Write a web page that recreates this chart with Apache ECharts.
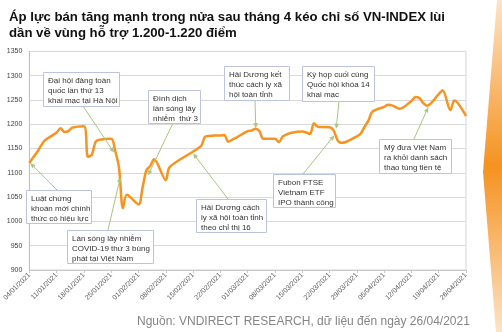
<!DOCTYPE html>
<html>
<head>
<meta charset="utf-8">
<script src="https://cdn.jsdelivr.net/npm/echarts@6/dist/echarts.min.js"></script>
<style>
  html, body { margin: 0; padding: 0; background: #ffffff; }
  #chart { width: 502px; height: 332px; }
</style>
</head>
<body>
<div id="chart"></div>
<script>
// VN-INDEX daily closes, 04/01/2021 - 26/04/2021 (trading days only)
const tradeDates = [
  '2021-01-04','2021-01-05','2021-01-06','2021-01-07','2021-01-08',
  '2021-01-11','2021-01-12','2021-01-13','2021-01-14','2021-01-15',
  '2021-01-18','2021-01-19','2021-01-20','2021-01-21','2021-01-22',
  '2021-01-25','2021-01-26','2021-01-27','2021-01-28','2021-01-29',
  '2021-02-01','2021-02-02','2021-02-03','2021-02-04','2021-02-05',
  '2021-02-08','2021-02-09','2021-02-17','2021-02-18','2021-02-19',
  '2021-02-22','2021-02-23','2021-02-24','2021-02-25','2021-02-26',
  '2021-03-01','2021-03-02','2021-03-03','2021-03-04','2021-03-05',
  '2021-03-08','2021-03-09','2021-03-10','2021-03-11','2021-03-12',
  '2021-03-15','2021-03-16','2021-03-17','2021-03-18','2021-03-19',
  '2021-03-22','2021-03-23','2021-03-24','2021-03-25','2021-03-26',
  '2021-03-29','2021-03-30','2021-03-31','2021-04-01','2021-04-02',
  '2021-04-05','2021-04-06','2021-04-07','2021-04-08','2021-04-09',
  '2021-04-12','2021-04-13','2021-04-14','2021-04-15','2021-04-16',
  '2021-04-19','2021-04-20','2021-04-22','2021-04-23','2021-04-26'
];
const closes = [
  1120, 1132, 1143, 1156, 1167,
  1183, 1192, 1184, 1186, 1193,
  1196, 1133, 1137, 1164, 1168,
  1170, 1146, 1110, 1027, 1055,
  1035, 1068, 1105, 1114, 1128,
  1085, 1112, 1155, 1174, 1176,
  1177, 1178, 1164, 1168, 1172,
  1186, 1187, 1191, 1186, 1170,
  1170, 1163, 1175, 1179, 1182,
  1185, 1183, 1180, 1202, 1195,
  1194, 1188, 1168, 1162, 1163,
  1175, 1181, 1195, 1208, 1226,
  1236, 1240, 1239, 1235, 1232,
  1248, 1256, 1254, 1244, 1238,
  1262, 1270, 1229, 1249, 1217
];

// Weekly x-axis labels (Mondays)
const tickLabels = [
  '04/01/2021','11/01/2021','18/01/2021','25/01/2021','01/02/2021',
  '08/02/2021','15/02/2021','22/02/2021','01/03/2021','08/03/2021',
  '15/03/2021','22/03/2021','29/03/2021','05/04/2021','12/04/2021',
  '19/04/2021','26/04/2021'
];

// Event call-outs: text, and the point on the index line each one refers to
const noteTexts = [
  ['Luật chứng', 'khoán mới chính', 'thức có hiệu lực'],
  ['Đại hội đảng toàn', 'quốc lần thứ 13', 'khai mạc tại Hà Nội'],
  ['Làn sóng lây nhiễm', 'COVID-19 thứ 3 bùng', 'phát tại Việt Nam'],
  ['Đình dịch', 'làn sóng lây', 'nhiễm  thứ 3'],
  ['Hải Dương cách', 'ly xã hội toàn tỉnh', 'theo chỉ thị 16'],
  ['Hải Dương kết', 'thúc cách ly xã', 'hội toàn tỉnh'],
  ['Kỳ họp cuối cùng', 'Quốc hội khóa 14', 'khai mạc'],
  ['Fubon FTSE', 'Vietnam ETF', 'IPO thành công'],
  ['Mỹ đưa Việt Nam', 'ra khỏi danh sách', 'thao túng tiền tệ']
];
const noteDates = [
  '2021-01-04 06:00', '2021-01-25 17:00', '2021-01-27 08:00',
  '2021-02-03 11:00', '2021-02-15 00:00', '2021-03-03 02:00',
  '2021-03-23 17:00', '2021-03-23 05:00', '2021-04-16 07:00'
];
const noteValues = [1120, 1142, 1091, 1095, 1140, 1192, 1191, 1177, 1235];

const yMin = 900, yMax = 1350, yStep = 50;

// ---- helpers ----
const DAY = 86400000;
const start = Date.UTC(2021, 0, 4);
function dayOf(s) {
  const [d, t] = s.split(' ');
  const [Y, M, D] = d.split('-').map(Number);
  let h = 0;
  if (t) h = Number(t.split(':')[0]);
  return (Date.UTC(Y, M - 1, D, h) - start) / DAY;
}

const chart = echarts.init(document.getElementById('chart'), null, { renderer: 'canvas' });
const seriesData = tradeDates.map((d, i) => [dayOf(d), closes[i]]);
const lastDay = dayOf(tickLabels[tickLabels.length - 1].split('/').reverse().join('-'));

const option = {
  animation: false,
  backgroundColor: '#ffffff',
  title: {
    text: 'Áp lực bán tăng mạnh trong nửa sau tháng 4 kéo chỉ số VN-INDEX lùi\ndần về vùng hỗ trợ 1.200-1.220 điểm',
    left: 4,
    top: 4,
    textStyle: {
      fontFamily: '"Liberation Sans", Arial, sans-serif',
      fontSize: 13.2,
      fontWeight: 'bold',
      color: '#111111',
      lineHeight: 16
    }
  },
  grid: {
    left: 23, top: 51.4, width: 443, height: 218.6,
    show: true, borderColor: '#d4d4d4', borderWidth: 1
  },
  xAxis: {
    type: 'value',
    min: 0,
    max: lastDay,
    interval: 7,
    axisLine: { show: true, lineStyle: { color: '#c8c8c8' } },
    axisTick: { show: true, length: 3, lineStyle: { color: '#c8c8c8' } },
    splitLine: { show: false },
    axisLabel: {
      rotate: 45,
      margin: 4,
      fontSize: 7,
      color: '#595959',
      fontFamily: '"Liberation Sans", Arial, sans-serif',
      formatter: v => (v % 7 === 0 ? (tickLabels[v / 7] || '') : '')
    }
  },
  yAxis: {
    type: 'value',
    min: yMin,
    max: yMax,
    interval: yStep,
    axisLine: { show: true, lineStyle: { color: '#b8bfda' } },
    axisTick: { show: false },
    splitLine: { show: true, lineStyle: { color: '#d9d9d9', width: 1 } },
    axisLabel: {
      margin: 7,
      fontSize: 7,
      color: '#404040',
      fontFamily: '"Liberation Sans", Arial, sans-serif',
      formatter: v => String(v)
    }
  },
  series: [{
    type: 'line',
    data: seriesData,
    showSymbol: false,
    smooth: 0.3,
    lineStyle: { color: '#f7931e', width: 2.5 },
    z: 3
  }]
};
chart.setOption(option);

// ---- call-out boxes with leader arrows ----
const noteBoxes = [
  [26, 190, 65, 33], [43, 72, 76, 34], [67, 230, 86, 33],
  [148, 90, 52, 33], [196, 199, 70, 33], [224, 66, 65, 34],
  [302, 66, 72, 35], [273, 174, 62, 33], [379, 139, 72, 34]
];
const leaderStarts = [
  [57, 190], [83, 106], [108, 230], [173, 123], [228, 199],
  [255, 100], [339, 101], [303, 174], [414, 139]
];

const LEADER = '#a9c57f';
const graphics = [];

noteTexts.forEach((lines, i) => {
  const b = noteBoxes[i];
  graphics.push({
    type: 'rect', silent: true, z: 10,
    shape: { x: b[0] + 0.5, y: b[1] + 0.5, width: b[2], height: b[3] },
    style: { fill: '#ffffff', stroke: '#bcc3dd', lineWidth: 1 }
  });
  graphics.push({
    type: 'text', silent: true, z: 11,
    x: b[0] + 5, y: b[1] + 4,
    style: {
      text: lines.join('\n'),
      fontSize: 8,
      lineHeight: 10,
      fontFamily: '"Liberation Sans", Arial, sans-serif',
      fill: '#333333'
    }
  });
  const tip = chart.convertToPixel({ gridIndex: 0 }, [dayOf(noteDates[i]), noteValues[i]]);
  const s = leaderStarts[i];
  const dx = tip[0] - s[0], dy = tip[1] - s[1];
  const len = Math.sqrt(dx * dx + dy * dy);
  const ux = dx / len, uy = dy / len;
  const nx = -uy, ny = ux;
  const ah = 5, aw = 2.3;
  graphics.push({
    type: 'line', silent: true, z: 9,
    shape: { x1: s[0], y1: s[1], x2: tip[0] - ux * (ah - 1), y2: tip[1] - uy * (ah - 1) },
    style: { stroke: LEADER, lineWidth: 1 }
  });
  graphics.push({
    type: 'polygon', silent: true, z: 9,
    shape: { points: [
      [tip[0], tip[1]],
      [tip[0] - ux * ah + nx * aw, tip[1] - uy * ah + ny * aw],
      [tip[0] - ux * ah - nx * aw, tip[1] - uy * ah - ny * aw]
    ] },
    style: { fill: LEADER }
  });
});

// source line
graphics.push({
  type: 'text', silent: true, z: 11,
  x: 137, y: 322,
  style: {
    text: 'Nguồn: VNDIRECT RESEARCH, dữ liệu đến ngày 26/04/2021',
    fontSize: 12,
    fontFamily: '"Liberation Sans", Arial, sans-serif',
    fill: '#858585',
    verticalAlign: 'middle'
  }
});

// orange side ornament
graphics.push({
  type: 'polygon', silent: true, z: 1,
  shape: { points: [[497, 0], [483, 172], [496, 332], [502, 332], [502, 0]] },
  style: {
    fill: {
      type: 'linear', x: 0, y: 0, x2: 0, y2: 1,
      colorStops: [
        { offset: 0, color: '#fde3c6' },
        { offset: 0.5, color: '#f5921f' },
        { offset: 1, color: '#fde3c6' }
      ]
    }
  }
});

chart.setOption({ graphic: graphics });
</script>
</body>
</html>
